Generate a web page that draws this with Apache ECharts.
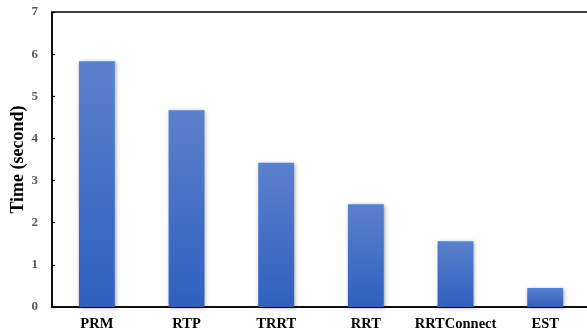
<!DOCTYPE html>
<html>
<head>
<meta charset="utf-8">
<script src="https://cdn.jsdelivr.net/npm/echarts@6/dist/echarts.min.js"></script>
<style>
  html, body { margin: 0; padding: 0; background: #fff; }
  #chart { width: 587px; height: 331px; }
</style>
</head>
<body>
<div id="chart"></div>
<script>
// Planner run times
const planners = ['PRM', 'RTP', 'TRRT', 'RRT', 'RRTConnect', 'EST'];
const timeSeconds = [5.83, 4.67, 3.42, 2.44, 1.56, 0.45];
const yTicks = [0, 1, 2, 3, 4, 5, 6, 7];

const serif = 'Liberation Serif, Times New Roman, serif';
const chart = echarts.init(document.getElementById('chart'), null, { renderer: 'canvas' });

chart.setOption({
  animation: false,
  backgroundColor: '#fff',
  grid: {
    left: 52, top: 12, width: 538, height: 295,
    outerBoundsMode: 'none',
    containLabel: false,
    show: true, borderColor: '#000', borderWidth: 1.5, backgroundColor: 'transparent'
  },
  xAxis: {
    type: 'category',
    data: planners,
    axisLine: { lineStyle: { color: '#000', width: 1.5 } },
    axisTick: { show: false },
    axisLabel: {
      interval: 0, hideOverlap: false,
      color: '#000', fontFamily: serif, fontWeight: 'bold', fontSize: 14.5, margin: 10
    }
  },
  yAxis: {
    type: 'value',
    min: yTicks[0],
    max: yTicks[yTicks.length - 1],
    interval: 1,
    name: 'Time (second)',
    nameLocation: 'middle',
    nameGap: 25,
    nameMoveOverlap: false,
    nameTextStyle: { color: '#000', fontFamily: serif, fontWeight: 'bold', fontSize: 18 },
    axisLine: { show: true, lineStyle: { color: '#000', width: 1.5 } },
    axisTick: { show: true, inside: true, length: 3, lineStyle: { color: '#000', width: 1.2 } },
    axisLabel: { color: '#595959', fontFamily: serif, fontWeight: 'bold', fontSize: 13, margin: 14 },
    splitLine: { show: false }
  },
  series: [{
    type: 'bar',
    data: timeSeconds,
    barWidth: '40%',
    itemStyle: {
      color: new echarts.graphic.LinearGradient(0, 0, 0, 1, [
        { offset: 0, color: '#5b81cc' },
        { offset: 1, color: '#2f5fbf' }
      ]),
      shadowColor: 'rgba(0,0,0,0.35)',
      shadowBlur: 4,
      shadowOffsetX: 1,
      shadowOffsetY: 1
    }
  }]
});
</script>
</body>
</html>
